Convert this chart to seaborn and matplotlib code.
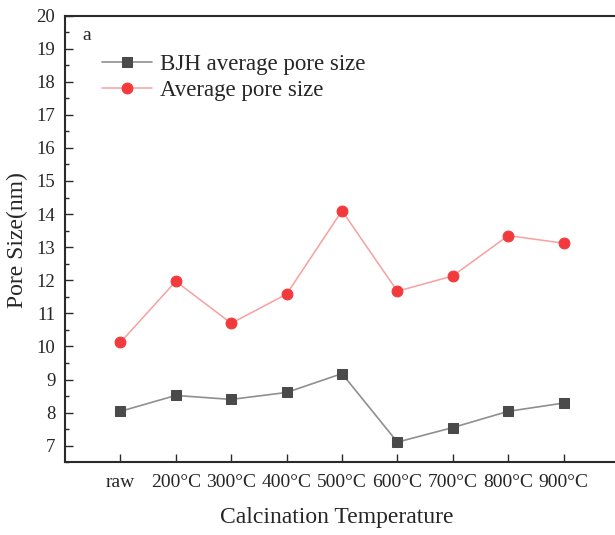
import matplotlib
matplotlib.use("Agg")
import matplotlib.pyplot as plt
import seaborn as sns
import pandas as pd
from matplotlib.ticker import MultipleLocator

# Calcination temperatures and measured pore sizes (nm)
temperatures = ["raw", "200°C", "300°C", "400°C", "500°C", "600°C", "700°C", "800°C", "900°C"]
bjh_pore_size = [8.04, 8.52, 8.40, 8.61, 9.18, 7.11, 7.55, 8.04, 8.29]
avg_pore_size = [10.12, 11.97, 10.70, 11.58, 14.10, 11.67, 12.13, 13.35, 13.12]
y_ticks = list(range(7, 21))

sns.set_style("ticks")
plt.rcParams["font.family"] = ["Liberation Serif", "DejaVu Serif"]

df = pd.DataFrame({
    "Temperature": temperatures,
    "BJH": bjh_pore_size,
    "Average": avg_pore_size,
})

fig = plt.figure(figsize=(6.15, 5.35), dpi=100)
ax = fig.add_axes([65 / 615, 1 - 462.3 / 535, 581.7 / 615, (462.3 - 15.5) / 535])

sns.lineplot(data=df, x="Temperature", y="BJH", ax=ax, sort=False,
             color="#8f8f8f", linewidth=1.2, marker="s", markersize=7.2,
             markerfacecolor="#4a4a4a", markeredgecolor="#4a4a4a",
             label="BJH average pore size")
sns.lineplot(data=df, x="Temperature", y="Average", ax=ax, sort=False,
             color="#f7a0a0", linewidth=1.1, marker="o", markersize=7.8,
             markerfacecolor="#f23a3d", markeredgecolor="#f23a3d",
             label="Average pore size")

ax.set_xlim(-1, 9.5)
ax.set_ylim(6.5, 20)
ax.set_yticks(y_ticks)
ax.yaxis.set_minor_locator(MultipleLocator(0.5))
ax.set_xticks(range(len(temperatures)))
ax.set_xticklabels(temperatures)

for side in ["left", "bottom", "top", "right"]:
    ax.spines[side].set_visible(True)
    ax.spines[side].set_linewidth(1.5)
    ax.spines[side].set_color("#2a2a2a")

ax.tick_params(axis="both", which="major", direction="in", length=6, width=1.0,
               color="#2a2a2a")
ax.tick_params(axis="y", which="minor", direction="in", length=3, width=1.0,
               color="#2a2a2a")
ax.tick_params(axis="y", which="major", labelsize=13.5, pad=7)
ax.tick_params(axis="x", which="major", labelsize=14, pad=8.5)
ax.tick_params(top=False, right=False, which="both")

ax.set_xlabel("Calcination Temperature", fontsize=17)
ax.set_ylabel("Pore Size(nm)", fontsize=17)
ax.xaxis.set_label_coords((337 - 65) / 581.7, -0.099)
ax.yaxis.set_label_coords(-0.064, 0.497)

ax.text((82 - 65) / 581.7, 1 - (35 - 15.5) / 446.8, "a", transform=ax.transAxes,
        fontsize=14, ha="left", va="center")

ax.legend(loc="center left", bbox_to_anchor=(102 / 615, 1 - 77.5 / 535),
          bbox_transform=fig.transFigure, frameon=False, fontsize=16.5,
          handlelength=2.2, handletextpad=0.35, labelspacing=0.22, borderpad=0,
          borderaxespad=0)

fig.savefig("out.png", dpi=100, facecolor="white")
